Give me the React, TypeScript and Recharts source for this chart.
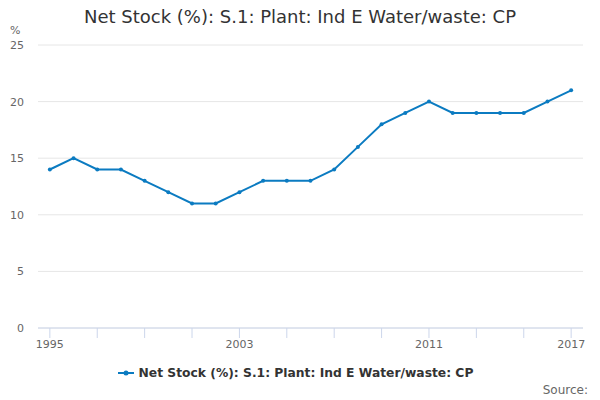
import React from 'react';
import { LineChart, Line, XAxis, YAxis, CartesianGrid, Legend } from 'recharts';

const years = [1995, 1996, 1997, 1998, 1999, 2000, 2001, 2002, 2003, 2004, 2005, 2006, 2007, 2008, 2009, 2010, 2011, 2012, 2013, 2014, 2015, 2016, 2017];
const netStock = [14, 15, 14, 14, 13, 12, 11, 11, 12, 13, 13, 13, 14, 16, 18, 19, 20, 19, 19, 19, 19, 20, 21];
const xTicks = [1995, 1997, 1999, 2001, 2003, 2005, 2007, 2009, 2011, 2013, 2015, 2017];
const labelledYears = [1995, 2003, 2011, 2017];
const yTicks = [0, 5, 10, 15, 20, 25];

const seriesName = 'Net Stock (%): S.1: Plant: Ind E Water/waste: CP';
const blue = '#0b7bc1';
const font = '"DejaVu Sans", Verdana, sans-serif';

const data = years.map((year, i) => ({ year, value: netStock[i] }));

const LegendContent = () => (
  <div style={{ display: 'flex', justifyContent: 'center', alignItems: 'center', paddingTop: 13, fontFamily: font }}>
    <svg width={16} height={10} style={{ marginRight: 5 }}>
      <line x1={0} y1={5} x2={16} y2={5} stroke={blue} strokeWidth={2} />
      <circle cx={8} cy={5} r={2.5} fill={blue} />
    </svg>
    <span style={{ fontSize: 12.3, fontWeight: 'bold', color: '#333' }}>{seriesName}</span>
  </div>
);

const App: React.FC = () => {
  return (
    <div style={{ position: 'absolute', left: 0, top: 0, width: 600, height: 400, fontFamily: font }}>
      <div style={{ position: 'absolute', top: 6, left: 0, width: 600, textAlign: 'center', fontSize: 18, color: '#333' }}>
        Net Stock (%): S.1: Plant: Ind E Water/waste: CP
      </div>
      <div style={{ position: 'absolute', top: 24, left: 10, fontSize: 11, color: '#666' }}>%</div>
      <LineChart width={600} height={400} data={data} margin={{ top: 45, right: 17, bottom: 11, left: 8 }}>
        <CartesianGrid vertical={false} stroke="#e6e6e6" />
        <XAxis
          dataKey="year"
          type="number"
          domain={[1994.5, 2017.5]}
          ticks={xTicks}
          tickFormatter={(v: number) => (labelledYears.includes(v) ? String(v) : '')}
          interval={0}
          height={25}
          tickSize={10}
          tickMargin={2}
          stroke="#ccd6eb"
          tick={{ fill: '#666', fontSize: 11 }}
        />
        <YAxis
          domain={[0, 25]}
          ticks={yTicks}
          width={30}
          axisLine={false}
          tickLine={false}
          tickSize={0}
          tickMargin={14}
          tick={{ fill: '#666', fontSize: 11 }}
        />
        <Legend verticalAlign="bottom" height={36} content={<LegendContent />} />
        <Line
          dataKey="value"
          name={seriesName}
          stroke={blue}
          strokeWidth={2}
          dot={{ r: 2, fill: blue, strokeWidth: 0 }}
          activeDot={false}
          isAnimationActive={false}
        />
      </LineChart>
      <div style={{ position: 'absolute', right: 12, top: 383, fontSize: 12, color: '#666' }}>Source:</div>
    </div>
  );
};

export default App;
